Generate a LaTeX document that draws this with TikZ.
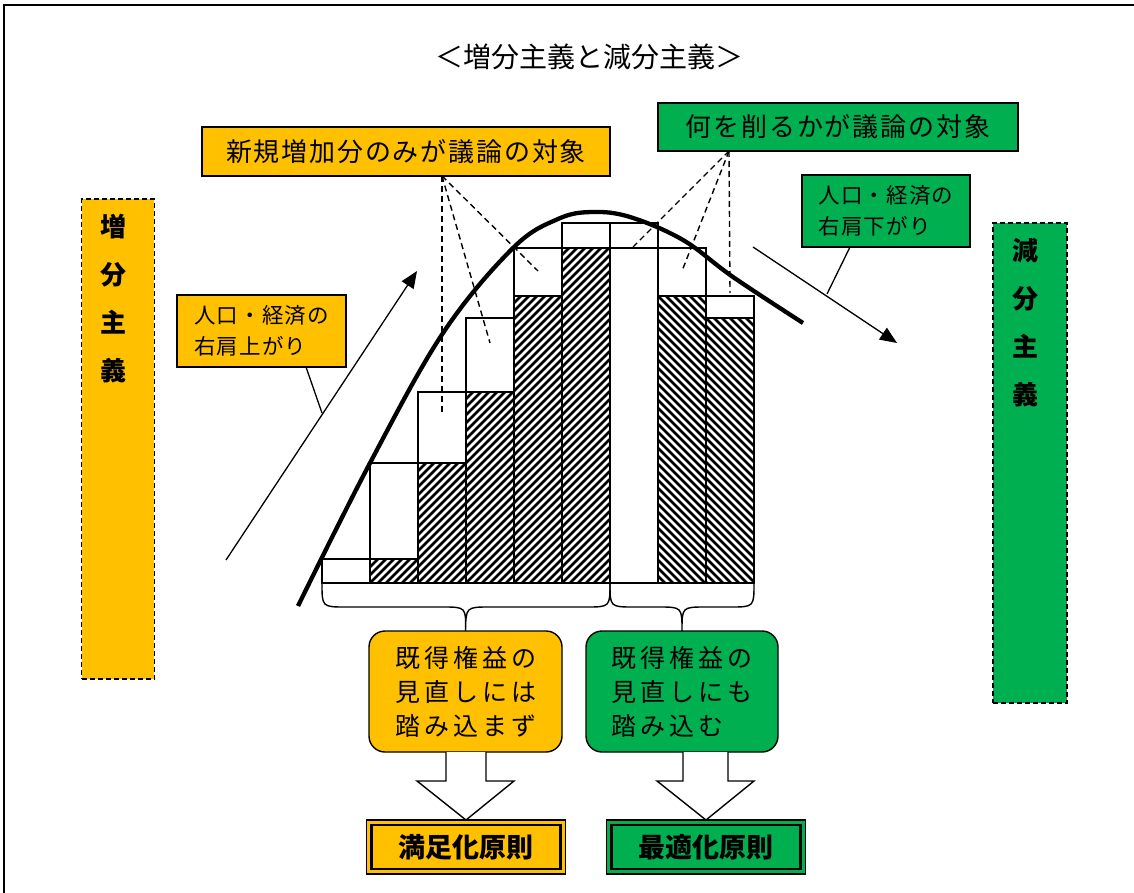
\documentclass[tikz,border=0pt]{standalone}
\usepackage{fontspec}
\newfontfamily\jp{Noto Sans CJK JP}
\newfontfamily\jpA{Noto Sans CJK JP}[LetterSpace=7]
\newfontfamily\jpB{Noto Sans CJK JP}[LetterSpace=5]
\newfontfamily\jpC{Noto Sans CJK JP}[LetterSpace=16]
\usetikzlibrary{arrows.meta}
\definecolor{orng}{HTML}{FFC000}
\definecolor{grn}{HTML}{00B050}
\newcommand{\hatchNE}[4]{%
  \begin{scope}
    \clip (#1,#2) rectangle (#3,#4);
    \foreach \s in {-360,-352,...,56} {\draw[hatchline] (#1+\s,#4) -- ++(400,-400);}
  \end{scope}}
\newcommand{\hatchNW}[4]{%
  \begin{scope}
    \clip (#1,#2) rectangle (#3,#4);
    \foreach \s in {-360,-352,...,56} {\draw[hatchline] (#1+\s,#2) -- ++(400,400);}
  \end{scope}}
\begin{document}
\begin{tikzpicture}[x=1pt,y=-1pt,
  hatchline/.style={line width=2.5pt},
  barline/.style={line width=1.4pt},
  boxO/.style={draw, line width=1.4pt, fill=orng, inner sep=0pt, outer sep=0pt},
  boxG/.style={draw, line width=1.4pt, fill=grn, inner sep=0pt, outer sep=0pt},
  vbox/.style={draw, line width=1.3pt, dash pattern=on 5pt off 3pt, inner sep=0pt, outer sep=0pt},
  vtext/.style={align=center, inner sep=0pt, font=\jp\bfseries\fontsize{26pt}{48pt}\selectfont},
  rbox/.style={draw, line width=1.4pt, rounded corners=16pt, inner sep=0pt, outer sep=0pt, align=left, font=\jpC\fontsize{25pt}{34pt}\selectfont},
  dashl/.style={line width=1.4pt, dash pattern=on 6pt off 4pt},
  thin/.style={line width=1.3pt},
  arr/.style={line width=1.3pt, -{Triangle[length=17pt,width=14pt]}},
  blockarr/.style={line width=1.4pt, fill=white},
  resbox/.style={draw, line width=1.5pt, inner sep=0pt, outer sep=0pt, minimum width=199pt, minimum height=54pt, font=\jp\bfseries\fontsize{27pt}{30pt}\selectfont},
  bigtxt/.style={font=\jpA\fontsize{26pt}{30pt}\selectfont},
  smalltxt/.style={align=left, font=\jpB\fontsize{21.5pt}{31pt}\selectfont},
]
\useasboundingbox (0,0) rectangle (1134,893);
\fill[white] (0,0) rectangle (1134,893);
% frame
\draw[line width=1.6pt] (4,900) -- (4,5) -- (1140,5);

% title
\node[font=\jp\fontsize{28pt}{30pt}\selectfont] (title) at (589,57) {＜増分主義と減分主義＞};

% vertical boxes
\node[vbox, fill=orng, minimum width=72.6pt, minimum height=480pt] (lbox) at (118,439) {};
\node[vtext] (ltext) at (113,298.5) {増\\分\\主\\義};
\node[vbox, fill=grn, minimum width=74pt, minimum height=480pt] (rbox) at (1030,463) {};
\node[vtext] (rtext) at (1025,322.5) {減\\分\\主\\義};

% bars
\fill[white] (322,223) rectangle (754,583);
\hatchNE{370}{559}{418}{583}
\hatchNE{418}{463}{466}{583}
\hatchNE{466}{392}{514}{583}
\hatchNE{514}{296}{562}{583}
\hatchNE{562}{248}{610}{583}
\hatchNW{658}{296}{706}{583}
\hatchNW{706}{318}{754}{583}
\draw[barline] (322,559) rectangle (370,583);
\draw[barline] (370,463) rectangle (418,583) (370,559) -- (418,559);
\draw[barline] (418,392) rectangle (466,583) (418,463) -- (466,463);
\draw[barline] (466,318) rectangle (514,583) (466,392) -- (514,392);
\draw[barline] (514,248) rectangle (562,583) (514,296) -- (562,296);
\draw[barline] (562,223) rectangle (610,583) (562,248) -- (610,248);
\draw[barline] (610,223) rectangle (658,583) (610,248) -- (658,248);
\draw[barline] (658,248) rectangle (706,583) (658,296) -- (706,296);
\draw[barline] (706,296) rectangle (754,583) (706,318) -- (754,318);

% curve
\draw[line width=4.3pt] plot[smooth, tension=0.6] coordinates {(298,606) (370,463) (443,333) (513,248) (558,219) (592,212) (630,217) (683,240) (733,277) (803,323)};

% top callouts
\node[boxO, bigtxt, minimum width=408pt, minimum height=49pt] (cl1) at (406,151.5) {新規増加分のみが議論の対象};
\node[boxG, bigtxt, minimum width=360pt, minimum height=48pt] (cl2) at (838,127) {何を削るかが議論の対象};

\coordinate (d1) at (442,176);
\coordinate (e11) at (442,415);
\coordinate (e12) at (490,343);
\coordinate (e13) at (538,271);
\draw[dashl] (d1) -- (e11);
\draw[dashl] (d1) -- (e12);
\draw[dashl] (d1) -- (e13);
\coordinate (d2) at (729,151);
\coordinate (e21) at (730,293);
\coordinate (e22) at (682,271);
\coordinate (e23) at (633,247);
\draw[dashl] (d2) -- (e21);
\draw[dashl] (d2) -- (e22);
\draw[dashl] (d2) -- (e23);

% trend arrows
\coordinate (ua0) at (226,560);
\coordinate (ua1) at (417,271);
\draw[arr] (ua0) -- (ua1);
\coordinate (da0) at (753,247);
\coordinate (da1) at (897,343);
\draw[arr] (da0) -- (da1);

% small callouts
\node[boxO, smalltxt, minimum width=169pt, minimum height=72pt] (cl3) at (261.5,331) {人口・経済の\\右肩上がり};
\node[boxG, smalltxt, minimum width=168pt, minimum height=72pt] (cl4) at (886,211) {人口・経済の\\右肩下がり};
\coordinate (l3a) at (306,367);
\coordinate (l3b) at (322,413);
\draw[thin] (l3a) -- (l3b);
\coordinate (l4a) at (850,247);
\coordinate (l4b) at (827,294);
\draw[thin] (l4a) -- (l4b);

% rounded boxes
\node[rbox, fill=orng, minimum width=193pt, minimum height=121pt] (rb1) at (465.5,691.5) {既得権益の\\見直しには\\踏み込まず};
\node[rbox, fill=grn, minimum width=192pt, minimum height=121pt] (rb2) at (682,691.5) {既得権益の\\見直しにも\\踏み込む};

% braces
\draw[line width=1.4pt] (322,583) .. controls (322,607) .. (346,607) -- (442,607) .. controls (466,607) .. (rb1.north) .. controls (466,607) .. (490,607) -- (586,607) .. controls (610,607) .. (610,583);
\draw[line width=1.4pt] (610,583) .. controls (610,607) .. (634,607) -- (658,607) .. controls (682,607) .. (rb2.north) .. controls (682,607) .. (706,607) -- (730,607) .. controls (754,607) .. (754,583);

% result boxes
\node[resbox, fill=orng] (res1) at (466,847) {満足化原則};
\draw[line width=2.6pt] ([shift={(5,5)}]res1.north west) rectangle ([shift={(-5,-5)}]res1.south east);
\node[resbox, fill=grn] (res2) at (706,847) {最適化原則};
\draw[line width=2.6pt] ([shift={(5,5)}]res2.north west) rectangle ([shift={(-5,-5)}]res2.south east);

% block arrows
\draw[blockarr] (446,752) -- (446,781) -- (417,781) -- (res1.north) -- (514,781) -- (486,781) -- (486,752);
\draw[blockarr] (683,752) -- (683,781) -- (657,781) -- (res2.north) -- (754,781) -- (728,781) -- (728,752);
\end{tikzpicture}
\end{document}
